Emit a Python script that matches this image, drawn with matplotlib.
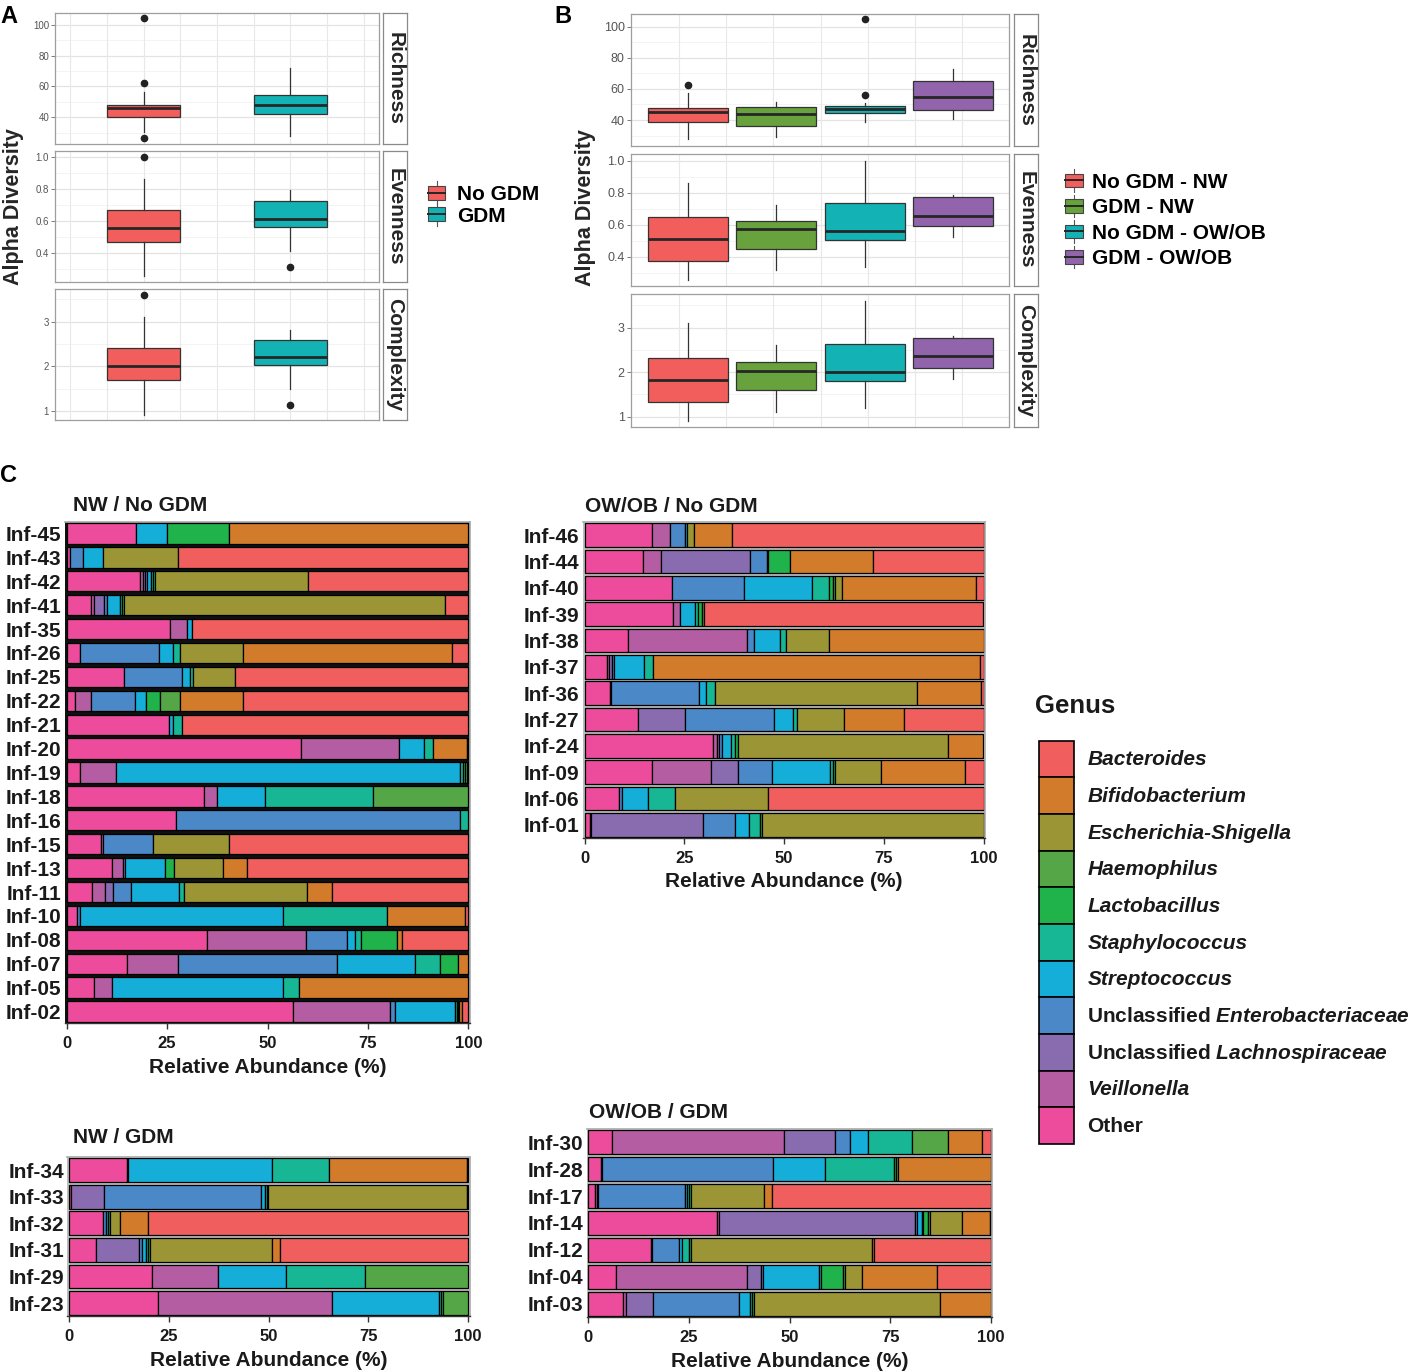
import matplotlib
matplotlib.use('Agg')
import matplotlib.pyplot as plt
from matplotlib.patches import Patch, Rectangle
from matplotlib.lines import Line2D
from matplotlib.legend_handler import HandlerBase
import numpy as np

plt.rcParams['font.family'] = ['Liberation Sans', 'DejaVu Sans']
plt.rcParams['mathtext.fontset'] = 'custom'
plt.rcParams['mathtext.it'] = 'Liberation Sans:italic:bold'
plt.rcParams['mathtext.rm'] = 'Liberation Sans:bold'
plt.rcParams['mathtext.bf'] = 'Liberation Sans:bold'

# ---------------- Panel A data (whislo, q1, median, q3, whishi) ----------------
a_groups = ['No GDM', 'GDM']
a_colors = ['#F15E5C', '#13B2B4']
a_rich_stats = [[30.5, 40.0, 46.0, 48.0, 56.5], [27.5, 42.0, 48.0, 54.5, 72.0]]
a_rich_out = [[104.5, 62.5, 26.5], []]
a_even_stats = [[0.26, 0.47, 0.555, 0.67, 0.86], [0.415, 0.565, 0.61, 0.727, 0.79]]
a_even_out = [[1.0], [0.315]]
a_comp_stats = [[0.91, 1.69, 2.0, 2.42, 3.1], [1.5, 2.03, 2.2, 2.6, 2.81]]
a_comp_out = [[3.6], [1.13]]

# ---------------- Panel B data ----------------
b_groups = ['No GDM - NW', 'GDM - NW', 'No GDM - OW/OB', 'GDM - OW/OB']
b_colors = ['#F15E5C', '#68A23C', '#13B2B4', '#9164AC']
b_rich_stats = [[27.6, 38.5, 44.9, 47.5, 57.5], [28.9, 36.1, 43.9, 48.4, 51.4],
                [38.9, 44.3, 46.9, 49.0, 50.7], [40.4, 46.4, 54.8, 65.1, 72.6]]
b_rich_out = [[62.5], [], [104.7, 56.3], []]
b_even_stats = [[0.254, 0.375, 0.51, 0.646, 0.859], [0.317, 0.448, 0.571, 0.623, 0.723],
                [0.338, 0.504, 0.56, 0.733, 1.0], [0.521, 0.589, 0.656, 0.775, 0.785]]
b_even_out = [[], [], [], []]
b_comp_stats = [[0.91, 1.337, 1.824, 2.326, 3.1], [1.11, 1.6, 2.02, 2.24, 2.6],
                [1.19, 1.81, 2.01, 2.64, 3.6], [1.85, 2.1, 2.36, 2.77, 2.81]]
b_comp_out = [[], [], [], []]

# ---------------- Panel C data ----------------
genus_legend = ['Bacteroides', 'Bifidobacterium', 'Escherichia-Shigella', 'Haemophilus',
                'Lactobacillus', 'Staphylococcus', 'Streptococcus',
                'Unclassified Enterobacteriaceae', 'Unclassified Lachnospiraceae',
                'Veillonella', 'Other']
genus_colors = ['#F15E5E', '#D27B2A', '#9B9535', '#55A647', '#20B24B', '#17B796',
                '#15AED8', '#4A88C8', '#896BB0', '#B55DA2', '#EC4C9B']
# stacking order (left to right) = reverse of legend order
# columns: Other, Veillonella, Lachnospiraceae, Enterobacteriaceae, Streptococcus,
#          Staphylococcus, Lactobacillus, Haemophilus, Escherichia-Shigella, Bifidobacterium, Bacteroides

nw_nogdm_samples = ['Inf-45', 'Inf-43', 'Inf-42', 'Inf-41', 'Inf-35', 'Inf-26', 'Inf-25',
                    'Inf-22', 'Inf-21', 'Inf-20', 'Inf-19', 'Inf-18', 'Inf-16', 'Inf-15',
                    'Inf-13', 'Inf-11', 'Inf-10', 'Inf-08', 'Inf-07', 'Inf-05', 'Inf-02']
nw_nogdm_abund = [
    [17.2, 0, 0, 0, 7.7, 0, 15.4, 0, 0, 59.7, 0],
    [0.8, 0, 0, 3.3, 5.0, 0, 0, 0, 18.7, 0, 72.2],
    [18.3, 0.6, 0.5, 0.5, 1.0, 0.6, 0.6, 0, 38.0, 0, 39.9],
    [6.0, 0.9, 2.5, 0.7, 3.2, 0.5, 0.5, 0, 79.9, 0, 5.8],
    [25.7, 4.3, 0, 0, 1.3, 0, 0, 0, 0, 0, 68.7],
    [3.3, 0, 0, 19.8, 3.3, 1.8, 0, 0, 15.8, 52.0, 4.0],
    [14.3, 0, 0, 14.4, 2.0, 0.8, 0, 0, 10.5, 0, 58.0],
    [2.1, 3.9, 0, 11.0, 2.7, 0, 3.6, 5.0, 0, 15.6, 56.1],
    [25.5, 0, 0, 0, 0.9, 2.2, 0, 0, 0, 0, 71.4],
    [58.3, 24.5, 0, 0, 6.1, 2.3, 0, 0, 0, 8.4, 0.4],
    [3.3, 9.0, 0, 0, 85.6, 0.8, 0.5, 0.6, 0, 0, 0.2],
    [34.2, 3.3, 0, 0, 11.9, 26.8, 0, 23.8, 0, 0, 0],
    [27.1, 0, 0, 70.8, 0, 2.1, 0, 0, 0, 0, 0],
    [8.5, 0.5, 0, 12.6, 0, 0, 0, 0, 18.9, 0, 59.5],
    [11.4, 2.7, 0, 0.4, 10.1, 0, 2.1, 0, 12.3, 6.0, 55.0],
    [6.2, 3.3, 2.1, 4.4, 12.0, 1.1, 0, 0, 30.7, 6.2, 34.0],
    [2.5, 0, 0, 0.8, 50.5, 25.9, 0, 0, 0, 19.5, 0.8],
    [35.0, 24.5, 0, 10.2, 2.1, 1.5, 8.9, 0, 0, 1.2, 16.6],
    [14.9, 12.7, 0, 39.6, 19.5, 6.2, 4.6, 0, 0, 2.5, 0],
    [6.9, 4.3, 0, 0, 42.6, 4.1, 0, 0, 0, 42.1, 0],
    [56.3, 24.2, 0, 1.2, 14.9, 0.5, 0.4, 0.3, 0, 0.6, 1.6],
]

ow_nogdm_samples = ['Inf-46', 'Inf-44', 'Inf-40', 'Inf-39', 'Inf-38', 'Inf-37', 'Inf-36',
                    'Inf-27', 'Inf-24', 'Inf-09', 'Inf-06', 'Inf-01']
ow_nogdm_abund = [
    [17.0, 4.5, 0, 3.6, 0.5, 0, 0, 0, 1.8, 9.6, 63.0],
    [14.6, 4.6, 22.4, 4.1, 0.4, 0, 5.5, 0, 0, 20.8, 27.6],
    [21.9, 0, 0, 18.0, 17.0, 4.3, 1.2, 0.3, 1.8, 33.5, 2.0],
    [22.1, 1.9, 0, 0, 3.8, 0.7, 0.9, 0.5, 0, 0, 70.1],
    [10.9, 29.8, 0, 1.8, 6.6, 1.5, 0, 0, 10.7, 38.7, 0],
    [5.7, 0.5, 0.8, 0.5, 7.3, 2.4, 0, 0, 0, 82.0, 0.8],
    [6.3, 0.3, 0, 22.1, 1.8, 2.1, 0, 0, 50.8, 16.0, 0.6],
    [13.4, 0, 11.7, 22.3, 4.8, 1.0, 0, 0, 11.8, 15.2, 19.8],
    [32.3, 0.9, 0.5, 0.7, 2.3, 1.1, 0.6, 0, 52.8, 8.8, 0],
    [17.0, 14.6, 6.8, 8.5, 14.6, 0.9, 0.5, 0, 11.5, 20.9, 4.7],
    [8.6, 0, 0, 0.7, 6.5, 6.9, 0, 0, 23.4, 0, 53.9],
    [1.3, 0.4, 28.0, 8.1, 3.4, 2.9, 0.5, 0, 55.4, 0, 0],
]

nw_gdm_samples = ['Inf-34', 'Inf-33', 'Inf-32', 'Inf-31', 'Inf-29', 'Inf-23']
nw_gdm_abund = [
    [14.5, 0.4, 0, 0, 36.1, 14.1, 0, 0, 0, 34.6, 0.3],
    [0.4, 0.2, 8.2, 39.3, 1.0, 0.5, 0.3, 0, 49.8, 0, 0.3],
    [8.6, 0, 0, 0.6, 0.5, 0.5, 0.2, 0, 2.4, 7.1, 80.1],
    [6.7, 0, 10.9, 0.8, 0.8, 0.5, 0.5, 0, 30.8, 1.8, 47.2],
    [20.7, 16.6, 0, 0, 17.0, 20.0, 0, 25.7, 0, 0, 0],
    [22.4, 43.5, 0, 0, 26.9, 0.5, 0.5, 6.2, 0, 0, 0],
]

ow_gdm_samples = ['Inf-30', 'Inf-28', 'Inf-17', 'Inf-14', 'Inf-12', 'Inf-04', 'Inf-03']
ow_gdm_abund = [
    [6.0, 42.7, 12.6, 3.7, 4.6, 10.9, 0, 8.9, 0, 8.4, 2.2],
    [3.1, 0.4, 0, 42.4, 13.0, 17.1, 0.5, 0.5, 0, 23.0, 0],
    [1.7, 0.4, 0.4, 21.5, 0.6, 0.5, 0.5, 0, 18.1, 1.9, 54.4],
    [31.9, 0.5, 48.7, 0.6, 1.2, 0.4, 1.2, 0.5, 7.8, 7.0, 0.2],
    [15.5, 0.4, 0, 6.6, 0.8, 1.8, 0.3, 0, 45.2, 0.5, 28.9],
    [7.0, 32.5, 3.4, 0.6, 13.8, 0.6, 5.4, 0.4, 4.4, 18.6, 13.3],
    [8.5, 0.8, 6.7, 21.5, 2.7, 0.5, 0.5, 0, 46.1, 12.7, 0],
]
abund_ticks = [0, 25, 50, 75, 100]

# ------------------------------------------------------------------
W, H = 1419, 1372
fig = plt.figure(figsize=(W / 100, H / 100), dpi=100)


def px_axes(l, t, r, b):
    return fig.add_axes([l / W, 1 - b / H, (r - l) / W, (b - t) / H])


def ftext(x, y, s, **kw):
    return fig.text(x / W, 1 - y / H, s, **kw)


def box_facet(ax, stats, outs, cols, pos, width, ylim, yt, ytl, ymin, xgrid, xlim, tfs):
    ax.set_xlim(*xlim)
    ax.set_ylim(*ylim)
    for v in ymin:
        ax.axhline(v, color='#F2F2F2', lw=0.6, zorder=0)
    for v in yt:
        ax.axhline(v, color='#E3E3E3', lw=0.9, zorder=0)
    for v in xgrid:
        ax.axvline(v, color='#E8E8E8', lw=0.8, zorder=0)
    bst = [dict(whislo=s[0], q1=s[1], med=s[2], q3=s[3], whishi=s[4], fliers=o)
           for s, o in zip(stats, outs)]
    art = ax.bxp(bst, positions=pos, widths=width, patch_artist=True, showcaps=False,
                 manage_ticks=False,
                 boxprops=dict(edgecolor='#333333', linewidth=0.9),
                 medianprops=dict(color='#262626', linewidth=2.0),
                 whiskerprops=dict(color='#333333', linewidth=0.9),
                 flierprops=dict(marker='o', markerfacecolor='#222222',
                                 markeredgecolor='#222222', markersize=4.5))
    for b, c in zip(art['boxes'], cols):
        b.set_facecolor(c)
    ax.set_xticks([])
    ax.set_yticks(yt)
    ax.set_yticklabels(ytl, fontsize=tfs, color='#555555')
    ax.tick_params(axis='y', length=3, width=0.6, color='#666666', pad=1.5)
    for sp in ax.spines.values():
        sp.set_color('#9E9E9E')
        sp.set_linewidth(0.9)


def strip(l, t, r, b, label):
    sa = px_axes(l, t, r, b)
    sa.set_xticks([])
    sa.set_yticks([])
    sa.set_facecolor('white')
    for sp in sa.spines.values():
        sp.set_color('#8A8A8A')
        sp.set_linewidth(0.9)
    sa.text(0.5, 0.5, label, rotation=-90, ha='center', va='center', fontsize=15,
            fontweight='bold', color='#262626', transform=sa.transAxes)


class BoxKey(HandlerBase):
    def create_artists(self, legend, orig_handle, xdescent, ydescent, width, height,
                       fontsize, trans):
        fc = orig_handle.get_facecolor()
        x0, y0 = -xdescent, -ydescent
        bh = height * 0.85
        by = y0 + (height - bh) / 2
        xm = x0 + width / 2
        w1 = Line2D([xm, xm], [y0 - height * 0.2, by], color='#555555', lw=0.8, transform=trans)
        w2 = Line2D([xm, xm], [by + bh, y0 + height * 1.2], color='#555555', lw=0.8, transform=trans)
        r = Rectangle((x0, by), width, bh, facecolor=fc, edgecolor='#444444', lw=0.8,
                      transform=trans)
        m = Line2D([x0, x0 + width], [y0 + height / 2] * 2, color='#262626', lw=1.4,
                   transform=trans)
        return [w1, w2, r, m]


# ---------------- Panel A ----------------
a_pos = [1, 2]
a_xgrid = [0.5, 0.75, 1.0, 1.25, 1.5, 1.75, 2.0, 2.25, 2.5]
a_specs = [
    ('Richness', a_rich_stats, a_rich_out, (22.6, 107.6), [40, 60, 80, 100],
     ['40', '60', '80', '100'], [30, 50, 70, 90], (13.3, 144)),
    ('Evenness', a_even_stats, a_even_out, (0.224, 1.035), [0.4, 0.6, 0.8, 1.0],
     ['0.4', '0.6', '0.8', '1.0'], [0.3, 0.5, 0.7, 0.9], (151, 281.7)),
    ('Complexity', a_comp_stats, a_comp_out, (0.8, 3.725), [1, 2, 3],
     ['1', '2', '3'], [1.5, 2.5, 3.5], (289.3, 420)),
]
for name, st, ou, yl, yt, ytl, ymn, (t, b) in a_specs:
    ax = px_axes(55.4, t, 378.6, b)
    box_facet(ax, st, ou, a_colors, a_pos, 0.5, yl, yt, ytl, ymn, a_xgrid, (0.4, 2.6), 7)
    strip(382.9, t, 407, b, name)

ftext(14, 207, 'Alpha Diversity', rotation=90, ha='center', va='center', fontsize=15.5,
      fontweight='bold', color='#262626')
a_handles = [Patch(facecolor=c) for c in a_colors]
fig.legend(a_handles, a_groups, loc='upper left', bbox_to_anchor=(428 / W, 1 - 184.5 / H),
           handler_map={Patch: BoxKey()}, frameon=False, borderpad=0, borderaxespad=0,
           handlelength=0.82, handleheight=0.85, handletextpad=0.58, labelspacing=0.1,
           prop=dict(size=15, weight='bold'))

# ---------------- Panel B ----------------
b_pos = [1, 2, 3, 4]
b_xgrid = [0.901, 1.432, 1.967, 2.502, 3.033, 3.568, 4.100]
b_specs = [
    ('Richness', b_rich_stats, b_rich_out, (23.3, 108.2), [40, 60, 80, 100],
     ['40', '60', '80', '100'], [30, 50, 70, 90], (14, 146)),
    ('Evenness', b_even_stats, b_even_out, (0.217, 1.042), [0.4, 0.6, 0.8, 1.0],
     ['0.4', '0.6', '0.8', '1.0'], [0.3, 0.5, 0.7, 0.9], (154, 286)),
    ('Complexity', b_comp_stats, b_comp_out, (0.768, 3.757), [1, 2, 3],
     ['1', '2', '3'], [1.5, 2.5, 3.5], (294, 427)),
]
for name, st, ou, yl, yt, ytl, ymn, (t, b) in b_specs:
    ax = px_axes(631, t, 1009.3, b)
    box_facet(ax, st, ou, b_colors, b_pos, 0.9, yl, yt, ytl, ymn, b_xgrid, (0.359, 4.633), 9)
    strip(1014, t, 1038, b, name)

ftext(585, 207.5, 'Alpha Diversity', rotation=90, ha='center', va='center', fontsize=15.5,
      fontweight='bold', color='#262626')
b_handles = [Patch(facecolor=c) for c in b_colors]
fig.legend(b_handles, b_groups, loc='upper left', bbox_to_anchor=(1065 / W, 1 - 172.5 / H),
           handler_map={Patch: BoxKey()}, frameon=False, borderpad=0, borderaxespad=0,
           handlelength=0.86, handleheight=0.8, handletextpad=0.43, labelspacing=0.3,
           prop=dict(size=15, weight='bold'))

# ---------------- Panel C ----------------


def stacked(x0, x100, t_bar, b_bar, samples, abund, bar_h, bg, title, title_xy):
    n = len(samples)
    ppu = (x100 - x0) / 100.0
    pad = 0.4
    row = (b_bar - t_bar) / (n - 1 + bar_h)
    marg = (1 - bar_h) / 2 * row
    ax = px_axes(x0 - pad * ppu, t_bar - marg, x100 + pad * ppu, b_bar + marg)
    arr = np.array(abund, dtype=float)
    ypos = np.arange(n)[::-1]
    left = np.zeros(n)
    stack_colors = genus_colors[::-1]
    for j in range(arr.shape[1]):
        w = arr[:, j]
        m = w > 0
        ax.barh(ypos[m], w[m], left=left[m], height=bar_h, color=stack_colors[j],
                edgecolor='black', linewidth=0.9, zorder=2)
        left += w
    ax.set_xlim(-pad, 100 + pad)
    ax.set_ylim(-0.5, n - 0.5)
    ax.set_yticks(ypos)
    ax.set_yticklabels(samples, fontsize=15, fontweight='bold', color='#1A1A1A')
    ax.tick_params(axis='y', length=0, pad=2.5)
    ax.set_xticks(abund_ticks)
    ax.set_xticklabels([str(v) for v in abund_ticks], fontsize=12, fontweight='bold',
                       color='#1A1A1A')
    ax.tick_params(axis='x', length=4, width=1.0, color='#333333', pad=5)
    ax.set_xlabel('Relative Abundance (%)', fontsize=15, fontweight='bold',
                  color='#1A1A1A', labelpad=5)
    ax.set_facecolor(bg)
    ax.spines['left'].set_visible(False)
    ax.spines['bottom'].set_color('#333333')
    ax.spines['bottom'].set_linewidth(1.0)
    for s in ('top', 'right'):
        ax.spines[s].set_color('#AAAAAA')
        ax.spines[s].set_linewidth(1.2)
    ftext(title_xy[0], title_xy[1], title, fontsize=15, fontweight='bold', color='#1A1A1A',
          ha='left', va='baseline')
    return ax


stacked(66.7, 468.3, 523.3, 1021.7, nw_nogdm_samples, nw_nogdm_abund, 0.85, '#111111',
        'NW / No GDM', (73, 510.7))
stacked(584.5, 983.5, 523.3, 836.7, ow_nogdm_samples, ow_nogdm_abund, 0.9, '#BDBDBD',
        'OW/OB / No GDM', (585, 511.7))
stacked(69, 468, 1158.3, 1315, nw_gdm_samples, nw_gdm_abund, 0.9, '#BDBDBD',
        'NW / GDM', (73, 1143))
stacked(588.3, 990.7, 1130, 1316, ow_gdm_samples, ow_gdm_abund, 0.9, '#BDBDBD',
        'OW/OB / GDM', (589, 1118.5))

# Genus legend
c_labels = []
for g in genus_legend:
    if g.startswith('Unclassified '):
        c_labels.append('Unclassified $\\mathit{' + g.split(' ', 1)[1] + '}$')
    else:
        c_labels.append(g)
c_handles = [Patch(facecolor=c, edgecolor='black', linewidth=1.2) for c in genus_colors]
leg = fig.legend(c_handles, c_labels, loc='upper left',
                 bbox_to_anchor=(1039.3 / W, 1 - 740.7 / H), frameon=False, borderpad=0,
                 borderaxespad=0, handlelength=1.68, handleheight=2.33, handletextpad=0.63,
                 labelspacing=0.0, prop=dict(size=15, weight='bold'))
for txt, g in zip(leg.get_texts(), genus_legend):
    txt.set_color('#1A1A1A')
    if g != 'Other' and not g.startswith('Unclassified'):
        txt.set_style('italic')
ftext(1035, 713.3, 'Genus', fontsize=18.5, fontweight='bold', color='#1A1A1A',
      ha='left', va='baseline')

# Panel letters
ftext(0, 23.3, 'A', fontsize=17, fontweight='bold', ha='left', va='baseline')
ftext(554, 22.7, 'B', fontsize=17, fontweight='bold', ha='left', va='baseline')
ftext(0, 482, 'C', fontsize=17, fontweight='bold', ha='left', va='baseline')

fig.savefig('out.png', dpi=100)
